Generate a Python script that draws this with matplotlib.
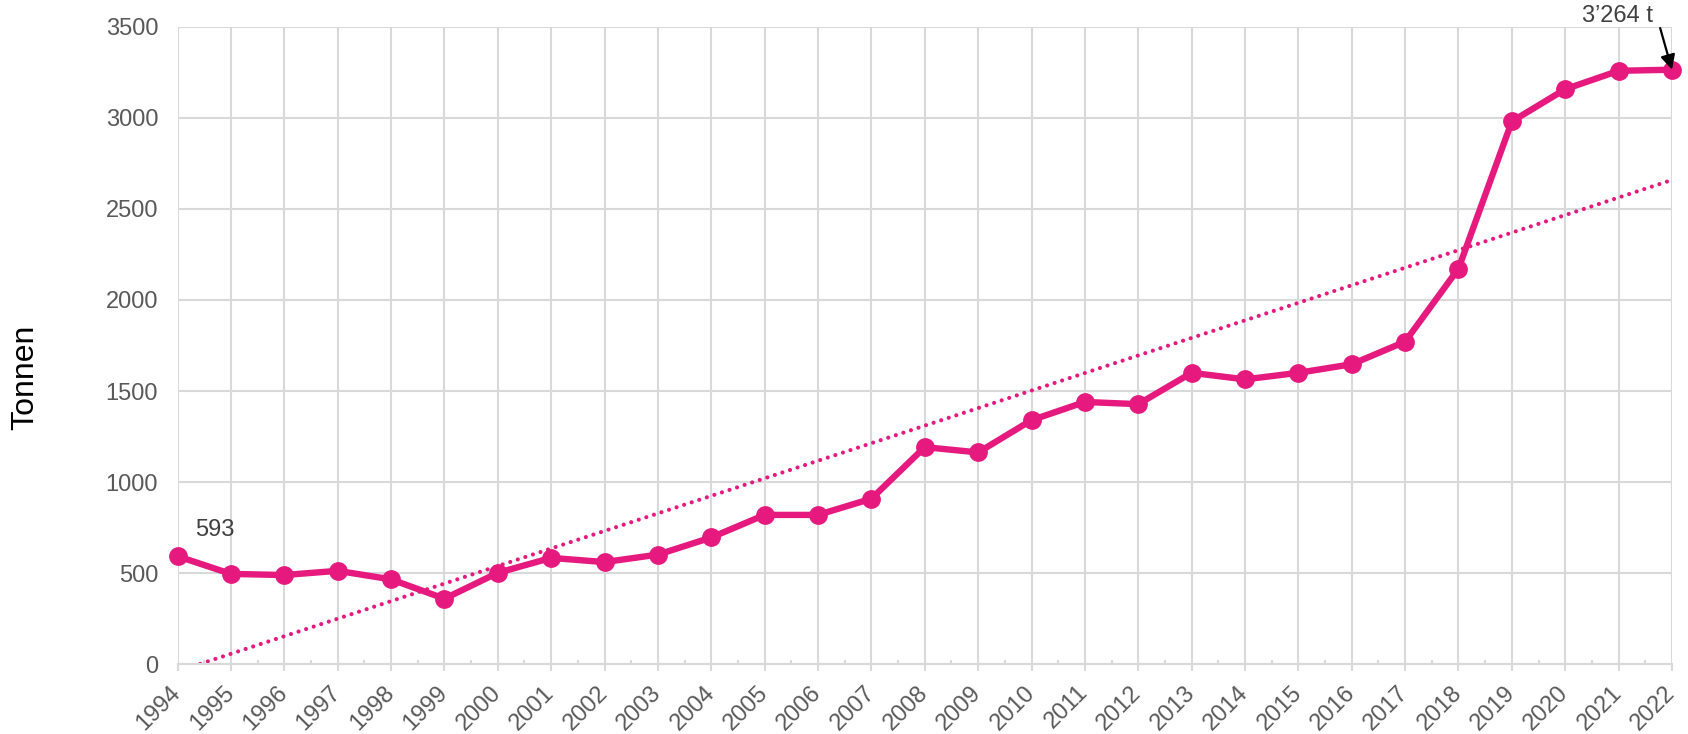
import matplotlib
matplotlib.use("Agg")
import matplotlib.pyplot as plt
import numpy as np

plt.rcParams["font.family"] = ["Liberation Sans", "DejaVu Sans"]

# ── data ─────────────────────────────────────────────────────────────────────
YEARS = list(range(1994, 2023))
TONNEN = [593, 496, 490, 513, 466, 360, 502, 584, 561, 602,
          696, 820, 820, 909, 1192, 1163, 1340, 1440, 1428, 1600,
          1564, 1600, 1647, 1771, 2172, 2980, 3157, 3258, 3264]
Y_TICKS = [0, 500, 1000, 1500, 2000, 2500, 3000, 3500]
FIRST_LABEL = "593"
LAST_LABEL = "3\u2019264 t"

PINK = "#E6197E"
GRID = "#D9D9D9"
TICK_TXT = "#595959"


def main():
    fig = plt.figure(figsize=(16.88, 7.34), dpi=100)
    ax = fig.add_axes([0.1052, 0.095, 0.8853, 0.8686])

    years = np.array(YEARS)
    vals = np.array(TONNEN)

    # linear trend (like the Excel trendline)
    coef = np.polyfit(years, vals, 1)
    ax.plot(years, np.polyval(coef, years), color=PINK, lw=3.0,
            linestyle=(0, (0.01, 1.9)), dash_capstyle="round", zorder=2)

    ax.plot(years, vals, color=PINK, lw=4.6, marker="o", markersize=12.5,
            clip_on=False, zorder=3)

    ax.set_xlim(1994, 2022)
    ax.set_ylim(0, 3500)
    ax.set_xticks(YEARS)
    ax.set_xticklabels([str(y) for y in YEARS], rotation=45, ha="right",
                       va="center", rotation_mode="anchor",
                       fontsize=17, color=TICK_TXT)
    ax.set_xticks(years[:-1] + 0.5, minor=True)
    ax.set_yticks(Y_TICKS)
    ax.set_yticklabels([str(v) for v in Y_TICKS], fontsize=17, color=TICK_TXT)

    ax.grid(True, which="major", color=GRID, lw=1.5)
    ax.set_axisbelow(True)
    for side in ["top", "right", "left"]:
        ax.spines[side].set_visible(False)
    ax.spines["bottom"].set_color(GRID)
    ax.spines["bottom"].set_linewidth(1.5)
    ax.tick_params(axis="x", which="major", length=5, width=1.5, color=GRID,
                   direction="out", pad=13)
    ax.tick_params(axis="x", which="minor", length=3, width=1.5, color=GRID,
                   direction="in")
    ax.tick_params(axis="y", length=0, pad=14)

    # labels on first and last point
    ax.annotate(FIRST_LABEL, xy=(YEARS[0], TONNEN[0]), xytext=(27, 19),
                textcoords="offset points", ha="center", va="center",
                fontsize=17, color="#404040")
    ax.annotate(LAST_LABEL, xy=(YEARS[-1], TONNEN[-1]), xytext=(-39, 39),
                textcoords="offset points", ha="center", va="center",
                fontsize=17, color="#404040")
    ax.annotate("", xy=(YEARS[-1], TONNEN[-1]), xytext=(-8.5, 30),
                textcoords="offset points",
                arrowprops=dict(arrowstyle="-|>", color="black", lw=1.6,
                                mutation_scale=22, shrinkA=0, shrinkB=0))

    fig.text(25 / 1688, 1 - 377 / 734, "Tonnen", rotation=90,
             ha="center", va="center", fontsize=23, color="black")

    fig.savefig("out.png", dpi=100)
    plt.close(fig)


if __name__ == "__main__":
    main()
